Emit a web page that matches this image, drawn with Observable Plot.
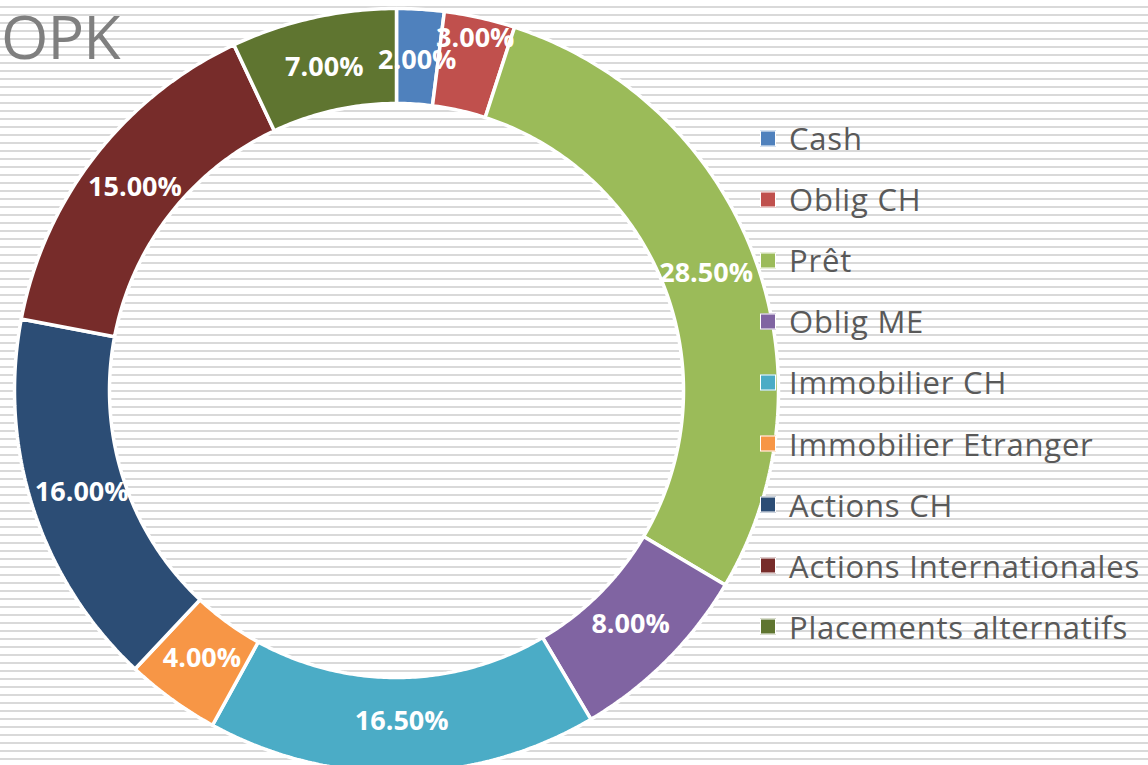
<!DOCTYPE html>
<html>
<head>
<meta charset="utf-8">
<script src="https://cdn.jsdelivr.net/npm/d3@7"></script>
<script src="https://cdn.jsdelivr.net/npm/@observablehq/plot@0.6"></script>
<style>
  html, body { margin: 0; padding: 0; }
  body {
    width: 1148px; height: 765px; overflow: hidden; position: relative;
    background: repeating-linear-gradient(to bottom, #ffffff 0px, #ffffff 6.5px, #d9d9d9 6.5px, #d9d9d9 8px);
    font-family: "Open Sans", sans-serif;
  }
  #chart { position: absolute; left: 0; top: 0; }
  #chart svg { background: transparent !important; }
  #title {
    position: absolute; left: 1px; top: 5px; font-size: 61px; color: #7f7f7f;
    line-height: 1; font-weight: 400; letter-spacing: -1px;
  }
  .row { position: absolute; left: 760px; display: flex; align-items: center; transform: translateY(-50%); }
  .sw { width: 14px; height: 14px; border: 1.5px solid #fff; margin-right: 13px; flex: none; }
  .lbl { font-size: 31px; color: #595959; line-height: 1; white-space: nowrap; letter-spacing: 0.8px; }
</style>
</head>
<body>
<div id="chart"></div>
<div id="title">OPK</div>
<div id="legend"></div>
<script>
// ---- data ----
const categories = ["Cash", "Oblig CH", "Prêt", "Oblig ME", "Immobilier CH", "Immobilier Etranger", "Actions CH", "Actions Internationales", "Placements alternatifs"];
const shares = [2.0, 3.0, 28.5, 8.0, 16.5, 4.0, 16.0, 15.0, 7.0];
const colors = ["#4F81BD", "#C0504D", "#9BBB59", "#8064A2", "#4BACC6", "#F79646", "#2C4D75", "#772C2A", "#5F7530"];
const labels = shares.map(v => v.toFixed(2) + "%");

// ---- layout ----
const W = 1148, H = 765;
const CX = 396, CY = 390, R_OUT = 382, R_IN = 287, R_LBL = 331;
const labelPush = {"Oblig CH": 30};

const total = d3.sum(shares);
const slices = [];
let acc = 0;
categories.forEach((name, i) => {
  const a0 = acc / total * 2 * Math.PI;
  acc += shares[i];
  const a1 = acc / total * 2 * Math.PI;
  slices.push({name, value: shares[i], label: labels[i], a0, a1});
});

const ringPts = [];
for (const s of slices) {
  const n = Math.max(8, Math.ceil((s.a1 - s.a0) / 0.01));
  const pts = [];
  for (let k = 0; k <= n; k++) {
    const a = s.a0 + (s.a1 - s.a0) * k / n;
    pts.push({name: s.name, x: R_OUT * Math.sin(a), y: R_OUT * Math.cos(a)});
  }
  for (let k = n; k >= 0; k--) {
    const a = s.a0 + (s.a1 - s.a0) * k / n;
    pts.push({name: s.name, x: R_IN * Math.sin(a), y: R_IN * Math.cos(a)});
  }
  pts.push({...pts[0]});
  ringPts.push(...pts);
}

const labelPts = slices.map(s => {
  const a = (s.a0 + s.a1) / 2;
  const r = R_LBL + (labelPush[s.name] || 0);
  return {name: s.name, label: s.label, x: r * Math.sin(a), y: r * Math.cos(a)};
});

const chart = Plot.plot({
  width: W, height: H,
  margin: 0,
  x: {domain: [-CX, W - CX], axis: null},
  y: {domain: [-(H - CY), CY], axis: null},
  color: {domain: categories, range: colors},
  style: {background: "transparent", overflow: "visible"},
  marks: [
    Plot.line(ringPts, {x: "x", y: "y", z: "name", fill: "name", stroke: "white", strokeWidth: 3.5, strokeLinejoin: "miter", curve: "linear"}),
    Plot.text(labelPts, {x: "x", y: "y", text: "label", fill: "white", fontSize: 27, fontWeight: "bold", fontFamily: "Open Sans"})
  ]
});
document.getElementById("chart").appendChild(chart);

// legend
const leg = document.getElementById("legend");
categories.forEach((name, i) => {
  const row = document.createElement("div");
  row.className = "row";
  row.style.top = (138 + i * 61.1) + "px";
  const sw = document.createElement("div");
  sw.className = "sw";
  sw.style.background = colors[i];
  const t = document.createElement("span");
  t.className = "lbl";
  t.textContent = name;
  row.appendChild(sw); row.appendChild(t);
  leg.appendChild(row);
});
</script>
</body>
</html>
